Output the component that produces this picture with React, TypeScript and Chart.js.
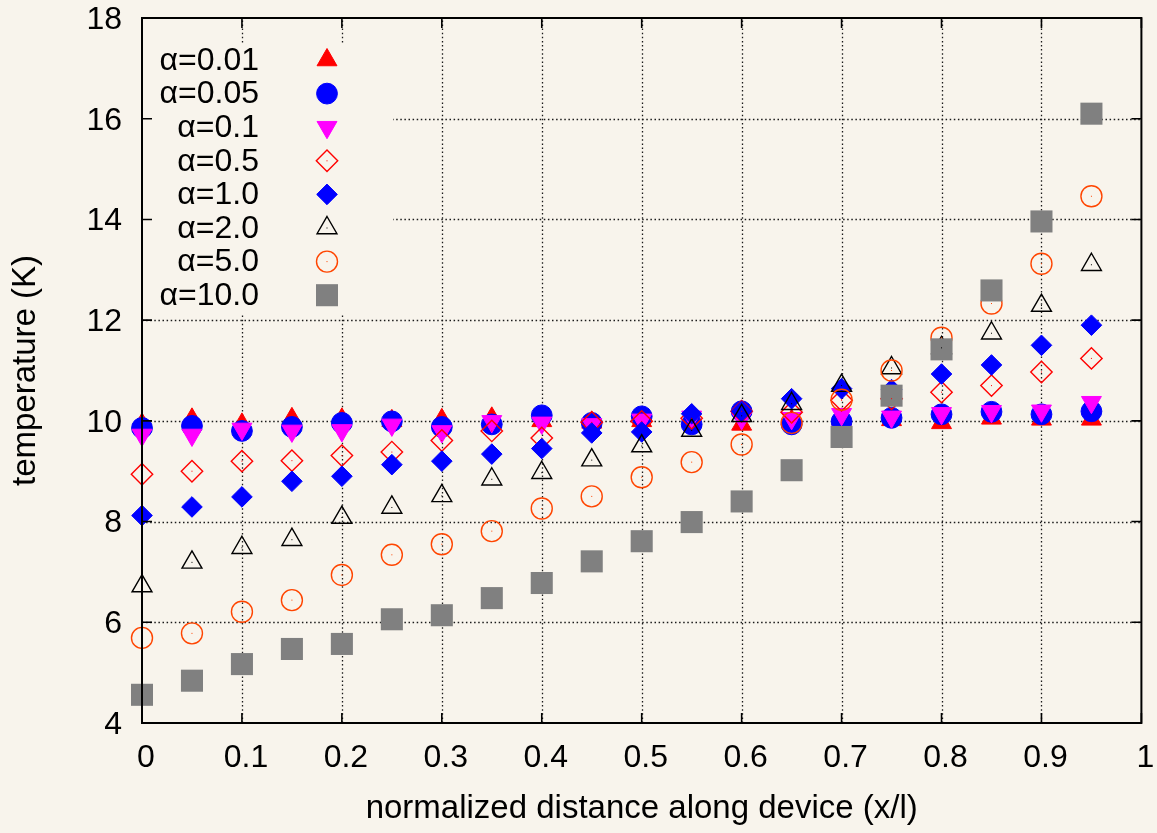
import React, { useEffect, useRef } from 'react';
import { Chart, registerables } from 'chart.js';
import { drawPoint } from 'chart.js/helpers';

Chart.register(...registerables);

// ---------- data ----------
const xValues = [0, 0.05, 0.1, 0.15, 0.2, 0.25, 0.3, 0.35, 0.4, 0.45, 0.5, 0.55, 0.6, 0.65, 0.7, 0.75, 0.8, 0.85, 0.9, 0.95];

const seriesLabels = ['α=0.01', 'α=0.05', 'α=0.1', 'α=0.5', 'α=1.0', 'α=2.0', 'α=5.0', 'α=10.0'];

const alpha001 = [9.93, 10.03, 9.93, 10.04, 10.03, 10.0, 10.02, 10.05, 10.0, 9.97, 10.0, 10.0, 9.93, 10.0, 10.03, 10.02, 9.96, 10.05, 10.03, 10.03];
const alpha005 = [9.86, 9.9, 9.8, 9.88, 9.96, 9.99, 9.88, 9.93, 10.11, 9.96, 10.09, 9.93, 10.19, 9.93, 9.99, 10.06, 10.13, 10.18, 10.13, 10.19];
const alpha01 = [9.72, 9.72, 9.84, 9.8, 9.81, 9.92, 9.79, 9.99, 9.96, 9.93, 10.02, 10.08, 10.05, 10.05, 10.13, 10.08, 10.15, 10.19, 10.2, 10.37];
const alpha05 = [8.94, 9.0, 9.2, 9.21, 9.31, 9.38, 9.61, 9.8, 9.66, 9.97, 9.99, 10.05, 10.19, 10.17, 10.41, 10.44, 10.57, 10.7, 10.97, 11.24];
const alpha1 = [8.12, 8.29, 8.49, 8.8, 8.9, 9.13, 9.2, 9.34, 9.45, 9.76, 9.78, 10.14, 10.19, 10.44, 10.64, 10.62, 10.93, 11.11, 11.5, 11.9];
const alpha2 = [6.72, 7.19, 7.48, 7.64, 8.08, 8.28, 8.51, 8.84, 8.97, 9.22, 9.5, 9.81, 10.1, 10.34, 10.7, 11.05, 11.45, 11.74, 12.29, 13.1];
const alpha5 = [5.69, 5.78, 6.21, 6.44, 6.94, 7.34, 7.55, 7.81, 8.26, 8.5, 8.88, 9.18, 9.53, 9.96, 10.42, 11.0, 11.65, 12.33, 13.12, 14.46];
const alpha10 = [4.56, 4.84, 5.17, 5.47, 5.57, 6.06, 6.14, 6.48, 6.78, 7.21, 7.61, 7.99, 8.4, 9.02, 9.68, 10.5, 11.42, 12.59, 13.96, 16.1];

const seriesValues = [alpha001, alpha005, alpha01, alpha05, alpha1, alpha2, alpha5, alpha10];

const yTickLabels = ['4', '6', '8', '10', '12', '14', '16', '18'];
const xTickLabels = ['0', '0.1', '0.2', '0.3', '0.4', '0.5', '0.6', '0.7', '0.8', '0.9', '1'];

const xTitle = 'normalized distance along device (x/l)';
const yTitle = 'temperature (K)';

// ---------- styles ----------
const BG = '#f8f4ec';
const FONT_FAMILY = "'Liberation Sans', Arial, Helvetica, sans-serif";
const FONT_SIZE = 32;
const TITLE_SIZE = 33;

type MarkerStyle = {
  pointStyle: string;
  rotation: number;
  radius: number;
  fill: string;
  stroke: string;
  borderWidth: number;
  centerDot: boolean;
};

const markerStyles: MarkerStyle[] = [
  { pointStyle: 'triangle', rotation: 0, radius: 11.5, fill: '#ff0000', stroke: '#ff0000', borderWidth: 1, centerDot: false },
  { pointStyle: 'circle', rotation: 0, radius: 10.4, fill: '#0000ff', stroke: '#0000ff', borderWidth: 1, centerDot: false },
  { pointStyle: 'triangle', rotation: 180, radius: 11.5, fill: '#ff00ff', stroke: '#ff00ff', borderWidth: 1, centerDot: false },
  { pointStyle: 'rectRot', rotation: 0, radius: 10.7, fill: 'rgba(0,0,0,0)', stroke: '#ff0000', borderWidth: 1.4, centerDot: true },
  { pointStyle: 'rectRot', rotation: 0, radius: 10.3, fill: '#0000ff', stroke: '#0000ff', borderWidth: 1, centerDot: false },
  { pointStyle: 'triangle', rotation: 0, radius: 11.5, fill: 'rgba(0,0,0,0)', stroke: '#000000', borderWidth: 1.4, centerDot: true },
  { pointStyle: 'circle', rotation: 0, radius: 10.5, fill: 'rgba(0,0,0,0)', stroke: '#ff4500', borderWidth: 1.4, centerDot: true },
  { pointStyle: 'rect', rotation: 0, radius: 15.6, fill: '#808080', stroke: '#808080', borderWidth: 0, centerDot: false },
];

const gnuplotPlugin = {
  id: 'gnuplotDecor',
  beforeDraw(chart: any) {
    const { ctx, width, height } = chart;
    ctx.save();
    ctx.fillStyle = BG;
    ctx.fillRect(0, 0, width, height);
    ctx.restore();
  },
  beforeDatasetsDraw(chart: any) {
    const { ctx, chartArea } = chart;
    const xs = chart.scales.x;
    const ys = chart.scales.y;
    ctx.save();
    // dotted grid
    ctx.strokeStyle = '#1a1a1a';
    ctx.lineWidth = 1.3;
    ctx.setLineDash([1.5, 2.6]);
    xs.ticks.forEach((t: any) => {
      const px = Math.round(xs.getPixelForValue(t.value)) + 0.5;
      if (px <= chartArea.left + 1 || px >= chartArea.right - 1) return;
      ctx.beginPath();
      ctx.moveTo(px, chartArea.bottom);
      ctx.lineTo(px, chartArea.top);
      ctx.stroke();
    });
    ys.ticks.forEach((t: any) => {
      const py = Math.round(ys.getPixelForValue(t.value)) + 0.5;
      if (py <= chartArea.top + 1 || py >= chartArea.bottom - 1) return;
      ctx.beginPath();
      ctx.moveTo(chartArea.left, py);
      ctx.lineTo(chartArea.right, py);
      ctx.stroke();
    });
    ctx.setLineDash([]);

    // opaque key box
    const keyLeft = chartArea.left + 1;
    const keyTop = 43;
    const keyRight = 393;
    const keyBottom = 313;
    ctx.fillStyle = BG;
    ctx.fillRect(keyLeft, keyTop, keyRight - keyLeft, keyBottom - keyTop);

    // key entries
    ctx.font = `${FONT_SIZE}px ${FONT_FAMILY}`;
    ctx.textAlign = 'right';
    ctx.textBaseline = 'middle';
    const rowStart = 60;
    const rowStep = 33.6;
    seriesLabels.forEach((label, i) => {
      const y = rowStart + i * rowStep;
      ctx.fillStyle = '#000';
      ctx.fillText(label, 259, y + 1);
      const m = markerStyles[i];
      ctx.fillStyle = m.fill;
      ctx.strokeStyle = m.stroke;
      ctx.lineWidth = m.borderWidth;
      drawPoint(ctx, { pointStyle: m.pointStyle, rotation: m.rotation, radius: m.radius, borderWidth: m.borderWidth }, 327, y);
      if (m.centerDot) {
        ctx.fillStyle = m.stroke;
        ctx.fillRect(326.5, y - 0.5, 1, 1);
      }
    });
    ctx.restore();
  },
  afterDatasetsDraw(chart: any) {
    const { ctx, chartArea } = chart;
    const xs = chart.scales.x;
    const ys = chart.scales.y;
    ctx.save();
    // center dots of open markers
    chart.data.datasets.forEach((ds: any, i: number) => {
      const m = markerStyles[i];
      if (!m.centerDot) return;
      const meta = chart.getDatasetMeta(i);
      ctx.fillStyle = m.stroke;
      meta.data.forEach((el: any) => {
        ctx.fillRect(el.x - 0.5, el.y - 0.5, 1, 1);
      });
    });
    // tick marks, inward, mirrored
    ctx.strokeStyle = '#000';
    ctx.lineWidth = 1.6;
    const tl = 10;
    xs.ticks.forEach((t: any) => {
      const px = xs.getPixelForValue(t.value);
      ctx.beginPath();
      ctx.moveTo(px, chartArea.bottom);
      ctx.lineTo(px, chartArea.bottom - tl);
      ctx.moveTo(px, chartArea.top);
      ctx.lineTo(px, chartArea.top + tl);
      ctx.stroke();
    });
    ys.ticks.forEach((t: any) => {
      const py = ys.getPixelForValue(t.value);
      ctx.beginPath();
      ctx.moveTo(chartArea.left, py);
      ctx.lineTo(chartArea.left + tl, py);
      ctx.moveTo(chartArea.right, py);
      ctx.lineTo(chartArea.right - tl, py);
      ctx.stroke();
    });
    // border
    ctx.lineWidth = 2;
    ctx.strokeRect(chartArea.left, chartArea.top, chartArea.right - chartArea.left, chartArea.bottom - chartArea.top);
    ctx.restore();
  },
};

export default function App() {
  const canvasRef = useRef<HTMLCanvasElement | null>(null);

  useEffect(() => {
    document.body.style.margin = '0';
    document.body.style.background = BG;
    const canvas = canvasRef.current;
    if (!canvas) return;

    const datasets = seriesValues.map((vals, i) => {
      const m = markerStyles[i];
      return {
        label: seriesLabels[i],
        data: xValues.map((x, j) => ({ x, y: vals[j] })),
        pointStyle: m.pointStyle,
        rotation: m.rotation,
        pointRadius: m.radius,
        pointHoverRadius: m.radius,
        backgroundColor: m.fill,
        borderColor: m.stroke,
        pointBorderWidth: m.borderWidth,
        borderWidth: m.borderWidth,
        showLine: false,
        clip: false as any,
        order: seriesValues.length - 1 - i,
      };
    });

    const font = { family: FONT_FAMILY, size: FONT_SIZE, lineHeight: 1 };
    const titleFont = { family: FONT_FAMILY, size: TITLE_SIZE, lineHeight: 1 };

    const chart = new Chart(canvas, {
      type: 'scatter',
      data: { datasets },
      plugins: [gnuplotPlugin],
      options: {
        animation: false,
        responsive: false,
        maintainAspectRatio: false,
        layout: { padding: { top: 18, right: 14, left: 0, bottom: 0 } },
        plugins: {
          legend: { display: false },
          tooltip: { enabled: false },
        },
        scales: {
          x: {
            type: 'linear',
            min: 0,
            max: 1,
            ticks: {
              stepSize: 0.1,
              font,
              color: '#000',
              padding: 19,
              labelOffset: 4,
              maxRotation: 0,
              autoSkip: false,
              callback: (_v: any, i: number) => xTickLabels[i],
            },
            grid: { display: false, drawTicks: false },
            border: { display: false },
            title: {
              display: true,
              text: xTitle,
              font: titleFont,
              color: '#000',
              padding: { top: 0, bottom: 8 },
            },
            afterFit: (s: any) => {
              s.height = 110;
              s.paddingLeft = 0;
              s.paddingRight = 0;
              s.paddingTop = 0;
              s.paddingBottom = 0;
            },
          },
          y: {
            type: 'linear',
            min: 4,
            max: 18,
            ticks: {
              stepSize: 2,
              font,
              color: '#000',
              padding: 20,
              labelOffset: 2,
              autoSkip: false,
              callback: (_v: any, i: number) => yTickLabels[i],
            },
            grid: { display: false, drawTicks: false },
            border: { display: false },
            title: {
              display: true,
              text: yTitle,
              font: titleFont,
              color: '#000',
              padding: { top: 9, bottom: 0 },
            },
            afterFit: (s: any) => {
              s.width = 142;
              s.paddingLeft = 0;
              s.paddingRight = 0;
              s.paddingTop = 0;
              s.paddingBottom = 0;
            },
          },
        },
      } as any,
    });

    return () => {
      chart.destroy();
    };
  }, []);

  return (
    <div style={{ position: 'fixed', left: 0, top: 0, width: 1157, height: 833, background: BG }}>
      <canvas ref={canvasRef} width={1157} height={833} style={{ display: 'block', width: 1157, height: 833 }} />
    </div>
  );
}
